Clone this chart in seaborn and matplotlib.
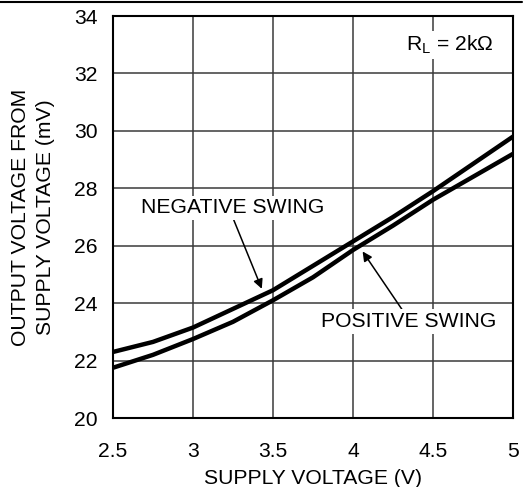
import matplotlib
matplotlib.use("Agg")
import matplotlib.pyplot as plt
import seaborn as sns
import pandas as pd
from matplotlib.lines import Line2D

# data
supply_v = [2.5, 2.75, 3.0, 3.25, 3.5, 3.75, 4.0, 4.25, 4.5, 4.75, 5.0]
negative_swing = [22.3, 22.65, 23.15, 23.8, 24.45, 25.3, 26.15, 27.0, 27.9, 28.85, 29.8]
positive_swing = [21.75, 22.2, 22.75, 23.35, 24.1, 24.9, 25.85, 26.7, 27.6, 28.4, 29.2]
x_ticks = [2.5, 3, 3.5, 4, 4.5, 5]
x_ticklabels = ["2.5", "3", "3.5", "4", "4.5", "5"]
y_ticks = [20, 22, 24, 26, 28, 30, 32, 34]

df = pd.DataFrame({
    "v": supply_v * 2,
    "mv": negative_swing + positive_swing,
    "curve": ["NEGATIVE SWING"] * len(supply_v) + ["POSITIVE SWING"] * len(supply_v),
})

sns.set_style("white")
plt.rcParams["font.family"] = ["Liberation Sans", "DejaVu Sans"]
plt.rcParams["mathtext.default"] = "regular"
plt.rcParams["text.color"] = "black"
plt.rcParams["axes.labelcolor"] = "black"

fs = 15.2
fig = plt.figure(figsize=(5.25, 4.87), dpi=100)
ax = fig.add_axes([113 / 525, 69 / 487, 400 / 525, 402 / 487])

sns.lineplot(data=df, x="v", y="mv", hue="curve", palette=["black", "black"],
             linewidth=3.2, legend=False, ax=ax, zorder=3)

ax.set_xlim(2.5, 5)
ax.set_ylim(20, 34)
ax.set_xticks(x_ticks)
ax.set_xticklabels(x_ticklabels)
ax.set_yticks(y_ticks)
ax.tick_params(length=0, labelsize=fs, colors="black")
ax.tick_params(axis="x", pad=17)
ax.tick_params(axis="y", pad=11)
ax.grid(True, color="#3a3a3a", linewidth=1.1)
for s in ax.spines.values():
    s.set_color("black")
    s.set_linewidth(1.5)
    s.set_visible(True)

ax.set_xlabel("SUPPLY VOLTAGE (V)", fontsize=fs, labelpad=6)
ax.set_ylabel("OUTPUT VOLTAGE FROM\nSUPPLY VOLTAGE (mV)", fontsize=fs,
              labelpad=14, linespacing=1.4)

box = dict(facecolor="white", edgecolor="none", pad=2)
ax.text(4.875, 33.0, "R$_{L}$ = 2kΩ", fontsize=fs, ha="right", va="center",
        bbox=box, zorder=4)

arrow = dict(arrowstyle="-|>", color="black", lw=1.1, mutation_scale=14,
             shrinkA=0, shrinkB=0)
ax.annotate("NEGATIVE SWING", xy=(3.43, 24.5), xytext=(3.248, 27.32),
            fontsize=fs, ha="center", va="center", bbox=box, zorder=4,
            arrowprops=dict(arrow, relpos=(0.5, 0.0)))
ax.annotate("POSITIVE SWING", xy=(4.06, 25.8), xytext=(4.35, 23.36),
            fontsize=fs, ha="center", va="center", bbox=box, zorder=4,
            arrowprops=dict(arrow, relpos=(0.47, 1.0)))

fig.add_artist(Line2D([0, 522 / 525], [1 - 2 / 487] * 2,
                      transform=fig.transFigure, color="black", lw=1.5))

fig.savefig("out.png", dpi=100)
